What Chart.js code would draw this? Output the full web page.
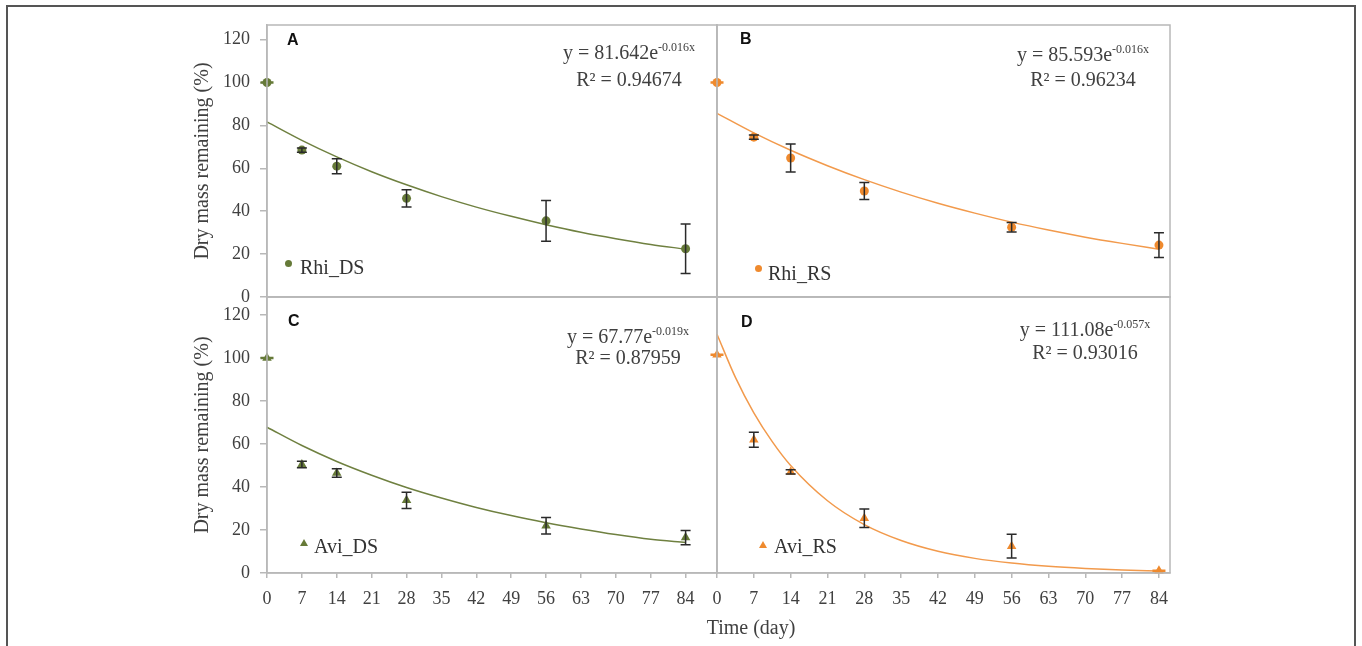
<!DOCTYPE html>
<html lang="en">
<head>
<meta charset="UTF-8">
<title>Dry mass remaining</title>
<style>
    * { margin: 0; padding: 0; box-sizing: border-box; }
    body {
        width: 1362px;
        height: 646px;
        background: #fff;
        position: relative;
        overflow: hidden;
        font-family: 'Liberation Serif', 'Times New Roman', serif;
        color: #404040;
    }
    .frame { position: absolute; left: 6px; top: 5px; width: 1350px; height: 700px; border: 2px solid #555; }
    canvas { position: absolute; left: 0; top: 0; }
    .letter { position: absolute; font: bold 16px/16px 'Liberation Sans', Arial, sans-serif; color: #111; }
    .eq { position: absolute; width: 300px; text-align: center; font-size: 20px; line-height: 24px; white-space: nowrap; }
    .eq .sup { font-size: 12px; position: relative; top: -8px; }
    .leg { position: absolute; font-size: 20px; line-height: 24px; color: #333; white-space: nowrap; }
    .dot { position: absolute; width: 7px; height: 7px; border-radius: 50%; }
    .tri { position: absolute; width: 0; height: 0; border-left: 4px solid transparent; border-right: 4px solid transparent; border-bottom: 7px solid; }
    .xtitle { position: absolute; left: 651px; top: 615px; width: 200px; text-align: center; font-size: 20px; line-height: 24px; }
</style>
</head>
<body>
    <div class="frame"></div>
    <canvas id="panelA" width="1362" height="646"></canvas>
    <canvas id="panelB" width="1362" height="646"></canvas>
    <canvas id="panelC" width="1362" height="646"></canvas>
    <canvas id="panelD" width="1362" height="646"></canvas>

    <div class="letter" style="left:287px; top:32px;">A</div>
    <div class="letter" style="left:740px; top:31px;">B</div>
    <div class="letter" style="left:288px; top:313px;">C</div>
    <div class="letter" style="left:741px; top:314px;">D</div>

    <div class="eq" style="left:479px; top:40px;">y = 81.642e<span class="sup">-0.016x</span></div>
    <div class="eq" style="left:479px; top:67px;">R² = 0.94674</div>
    <div class="eq" style="left:933px; top:42px;">y = 85.593e<span class="sup">-0.016x</span></div>
    <div class="eq" style="left:933px; top:67px;">R² = 0.96234</div>
    <div class="eq" style="left:478px; top:324px;">y = 67.77e<span class="sup">-0.019x</span></div>
    <div class="eq" style="left:478px; top:345px;">R² = 0.87959</div>
    <div class="eq" style="left:935px; top:317px;">y = 111.08e<span class="sup">-0.057x</span></div>
    <div class="eq" style="left:935px; top:340px;">R² = 0.93016</div>

    <div class="dot" style="left:285px; top:260px; background:#667a38;"></div>
    <div class="leg" style="left:300px; top:255px;">Rhi_DS</div>
    <div class="dot" style="left:755px; top:265px; background:#ef8a2e;"></div>
    <div class="leg" style="left:768px; top:261px;">Rhi_RS</div>
    <div class="tri" style="left:300px; top:539px; color:#667a38;"></div>
    <div class="leg" style="left:314px; top:534px;">Avi_DS</div>
    <div class="tri" style="left:759px; top:541px; color:#ef8a2e;"></div>
    <div class="leg" style="left:774px; top:534px;">Avi_RS</div>

    <div class="xtitle">Time (day)</div>

    <script src="https://cdn.jsdelivr.net/npm/chart.js@4.4.0/dist/chart.umd.min.js"></script>
    <script>
        // sampling days and axis ticks
        const days = [0, 7, 14, 28, 56, 84];
        const xTicks = [0, 7, 14, 21, 28, 35, 42, 49, 56, 63, 70, 77, 84];
        const yTicks = [0, 20, 40, 60, 80, 100, 120];

        // mean dry mass remaining (%) and error
        const rhiDS = [100, 68.5, 61, 46, 35.5, 22.5];
        const rhiDSErr = [0, 1, 3.5, 4, 9.5, 11.5];
        const rhiRS = [100, 74.5, 64.8, 49.4, 32.5, 24.2];
        const rhiRSErr = [0, 1, 6.5, 4, 2.2, 5.8];
        const aviDS = [100, 50.5, 46.5, 33.8, 22, 16.5];
        const aviDSErr = [0, 1.5, 2, 3.8, 3.8, 3.3];
        const aviRS = [101.5, 62, 47, 25.5, 12.5, 1];
        const aviRSErr = [0, 3.5, 1, 4.3, 5.5, 0];

        // exponential trend lines
        const trendDays = [0, 7, 14, 21, 28, 35, 42, 49, 56, 63, 70, 77, 84];
        const trendRhiDS = [81.6, 73.0, 65.3, 58.4, 52.3, 46.8, 41.9, 37.6, 33.7, 30.2, 27.2, 24.5, 22.3];
        const trendRhiRS = [85.6, 76.5, 68.4, 61.2, 54.7, 48.9, 43.7, 39.1, 34.9, 31.2, 27.9, 25.0, 22.3];
        const trendAviDS = [67.8, 59.3, 51.9, 45.5, 39.8, 34.9, 30.5, 26.7, 23.4, 20.5, 17.9, 15.7, 14.2];
        const trendAviRSDays = [0, 3.5, 7, 10.5, 14, 21, 28, 35, 42, 49, 56, 63, 70, 77, 84];
        const trendAviRS = [111.1, 91.0, 74.5, 61.1, 50.0, 33.6, 22.5, 15.1, 10.1, 6.8, 4.6, 3.1, 2.1, 1.4, 0.9];

        const green = '#667a38', greenLine = '#6f8040';
        const orange = '#ef8a2e', orangeLine = '#f29a4c';
        const axisGray = '#b8b8b8';
        const serif = "'Liberation Serif', 'Times New Roman', serif";

        function makePanel(id, cfg) {
            const errorBars = {
                id: 'errorBars',
                afterDatasetsDraw(chart) {
                    const ctx = chart.ctx, xs = chart.scales.x, ys = chart.scales.y;
                    ctx.save();
                    days.forEach((d, i) => {
                        const px = xs.getPixelForValue(d);
                        const e = cfg.errors[i];
                        const top = ys.getPixelForValue(cfg.values[i] + e);
                        const bot = ys.getPixelForValue(cfg.values[i] - e);
                        const half = e > 0 ? 5 : 6.5;
                        ctx.strokeStyle = e > 0 ? '#2a2a2a' : cfg.color;
                        ctx.lineWidth = e > 0 ? 1.5 : 2.5;
                        ctx.beginPath();
                        ctx.moveTo(px, top); ctx.lineTo(px, bot);
                        ctx.moveTo(px - half, top); ctx.lineTo(px + half, top);
                        ctx.moveTo(px - half, bot); ctx.lineTo(px + half, bot);
                        ctx.stroke();
                    });
                    ctx.restore();
                }
            };
            const frame = {
                id: 'frame',
                afterDraw(chart) {
                    const a = chart.chartArea, ctx = chart.ctx;
                    ctx.save();
                    ctx.strokeStyle = axisGray;
                    ctx.lineWidth = 1.5;
                    ctx.strokeRect(a.left, a.top, a.right - a.left, a.bottom - a.top);
                    ctx.restore();
                }
            };

            new Chart(document.getElementById(id), {
                type: 'scatter',
                data: {
                    datasets: [
                        {
                            data: days.map((d, i) => ({ x: d, y: cfg.values[i] })),
                            pointStyle: cfg.marker,
                            pointRadius: cfg.marker === 'triangle' ? 5.5 : 4.5,
                            backgroundColor: cfg.color,
                            borderColor: cfg.color,
                            borderWidth: 0,
                            clip: false
                        },
                        {
                            data: cfg.trendX.map((d, i) => ({ x: d, y: cfg.trend[i] })),
                            showLine: true,
                            borderColor: cfg.lineColor,
                            borderWidth: 1.5,
                            pointRadius: 0,
                            cubicInterpolationMode: 'monotone',
                            clip: false
                        }
                    ]
                },
                options: {
                    responsive: false,
                    animation: false,
                    events: [],
                    layout: { padding: cfg.padding },
                    plugins: { legend: { display: false }, tooltip: { enabled: false } },
                    scales: {
                        x: {
                            type: 'linear', min: 0, max: cfg.xMax,
                            afterBuildTicks: s => { s.ticks = xTicks.map(v => ({ value: v })); },
                            afterFit: s => { s.height = cfg.xHeight; },
                            ticks: { display: cfg.showX, font: { family: serif, size: 18 }, color: '#404040', padding: 10, maxRotation: 0, autoSkip: false },
                            grid: { display: cfg.showX, drawOnChartArea: false, drawTicks: true, tickLength: 5, color: axisGray, lineWidth: 1.5 },
                            border: { display: true, color: axisGray, width: 1.5 }
                        },
                        y: {
                            type: 'linear', min: 0, max: cfg.yMax,
                            afterBuildTicks: s => { s.ticks = yTicks.map(v => ({ value: v })); },
                            afterFit: s => { s.width = cfg.yWidth; },
                            ticks: { display: cfg.showY, font: { family: serif, size: 18 }, color: '#404040', padding: 10 },
                            grid: { display: cfg.showY, drawOnChartArea: false, drawTicks: true, tickLength: 7, color: axisGray, lineWidth: 1.5 },
                            border: { display: true, color: axisGray, width: 1.5 },
                            title: { display: cfg.showY, text: 'Dry mass remaining (%)', font: { family: serif, size: 20 }, color: '#404040', padding: 0 }
                        }
                    }
                },
                plugins: [errorBars, frame]
            });
        }

        makePanel('panelA', {
            values: rhiDS, errors: rhiDSErr, trendX: trendDays, trend: trendRhiDS,
            color: green, lineColor: greenLine, marker: 'circle',
            xMax: 90.3, yMax: 126.8, showX: false, showY: true, xHeight: 0, yWidth: 76,
            padding: { left: 191, right: 645, top: 25, bottom: 349 }
        });
        makePanel('panelB', {
            values: rhiRS, errors: rhiRSErr, trendX: trendDays, trend: trendRhiRS,
            color: orange, lineColor: orangeLine, marker: 'circle',
            xMax: 86.1, yMax: 126.8, showX: false, showY: false, xHeight: 0, yWidth: 0,
            padding: { left: 717, right: 192, top: 25, bottom: 349 }
        });
        makePanel('panelC', {
            values: aviDS, errors: aviDSErr, trendX: trendDays, trend: trendAviDS,
            color: green, lineColor: greenLine, marker: 'triangle',
            xMax: 90.3, yMax: 128.4, showX: true, showY: true, xHeight: 45, yWidth: 76,
            padding: { left: 191, right: 645, top: 297, bottom: 28 }
        });
        makePanel('panelD', {
            values: aviRS, errors: aviRSErr, trendX: trendAviRSDays, trend: trendAviRS,
            color: orange, lineColor: orangeLine, marker: 'triangle',
            xMax: 86.1, yMax: 128.4, showX: true, showY: false, xHeight: 45, yWidth: 0,
            padding: { left: 717, right: 192, top: 297, bottom: 28 }
        });
    </script>
</body>
</html>
